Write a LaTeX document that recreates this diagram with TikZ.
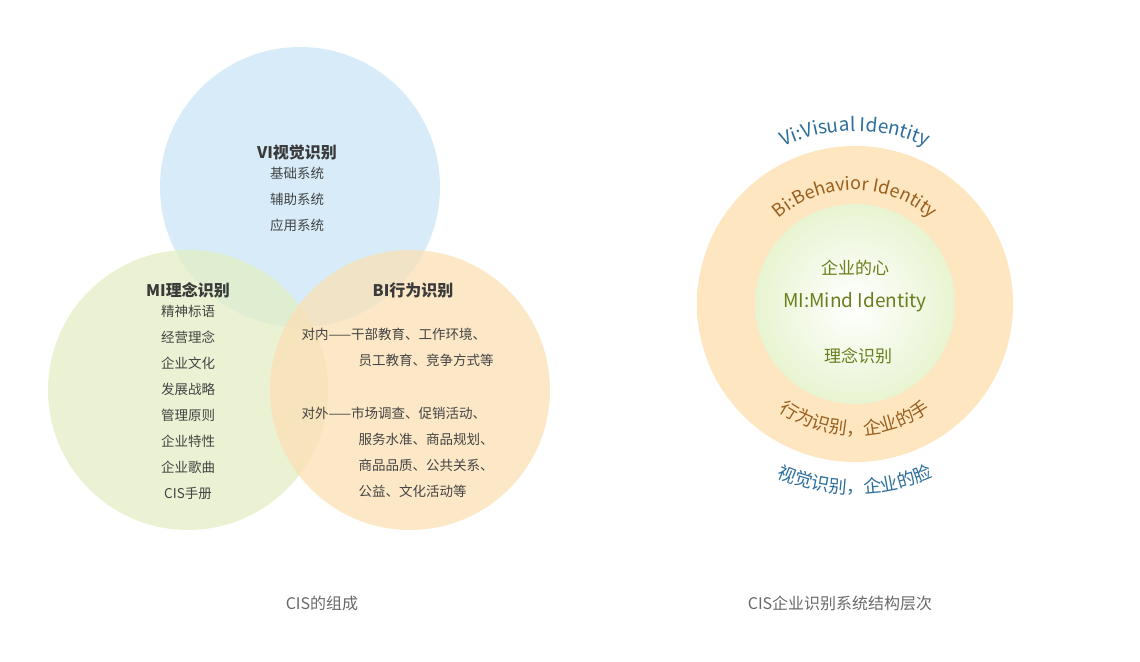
\documentclass[tikz,border=0pt]{standalone}
\usepackage{fontspec}
\setmainfont{Noto Sans CJK SC}
\usetikzlibrary{decorations.text}
\usetikzlibrary{positioning}

\definecolor{vennblue}{HTML}{C9E6F6}
\definecolor{venngreen}{HTML}{E3EEC4}
\definecolor{vennorange}{HTML}{FBE0B4}
\definecolor{ringblue}{HTML}{A6D6F0}
\definecolor{ringorange}{HTML}{F5BE72}
\definecolor{ringorangein}{HTML}{FDE6C0}
\definecolor{ringgreen}{HTML}{D2E9A4}
\definecolor{txtblue}{HTML}{2C6E9C}
\definecolor{txtorange}{HTML}{9A5E1C}
\definecolor{txtgreen}{HTML}{6A7E1C}
\definecolor{txtgray}{HTML}{444444}

\pgfdeclareradialshading{blueband}{\pgfpoint{0bp}{0bp}}{color(0bp)=(white); color(33bp)=(white); color(50bp)=(ringblue)}
\pgfdeclareradialshading{orangeband}{\pgfpoint{0bp}{0bp}}{color(0bp)=(ringorangein); color(32bp)=(ringorangein); color(50bp)=(ringorange)}
\pgfdeclareradialshading{greencore}{\pgfpoint{0bp}{0bp}}{color(0bp)=(white); color(50bp)=(ringgreen)}

\begin{document}
\begin{tikzpicture}[x=1pt,y=1pt]
    \tikzstyle{venn}=[fill opacity=0.75]
    \tikzstyle{title}=[font=\fontsize{16}{18}\selectfont\bfseries, text=txtgray!85!black]
    \tikzstyle{items}=[font=\fontsize{13.5}{26}\selectfont, text=txtgray, align=center]
    \tikzstyle{bline}=[font=\fontsize{13.5}{16}\selectfont, text=txtgray, anchor=west]
    \tikzstyle{caption}=[font=\fontsize{16}{18}\selectfont, text=txtgray!80]

    \useasboundingbox (0,0) rectangle (1140,661);

    % Venn circles
    \fill[venn, vennblue] (300,474) circle (140);
    \fill[venn, venngreen] (188,271) circle (140);
    \fill[venn, vennorange] (410,271) circle (140);

    % VI
    \node[title] (vi) at (297,509) {VI视觉识别};
    \node[items, below=0pt of vi] (vilist) {基础系统\\辅助系统\\应用系统};

    % MI
    \node[title] (mi) at (188,371) {MI理念识别};
    \node[items, below=0pt of mi] (milist) {精神标语\\经营理念\\企业文化\\发展战略\\管理原则\\企业特性\\企业歌曲\\CIS手册};

    % BI
    \node[title] (bi) at (413,371) {BI行为识别};
    \node[bline] (in1) at (298,327) {对内——干部教育、工作环境、};
    \node[bline] (in2) at (355,301) {员工教育、竞争方式等};
    \node[bline] (out1) at (298,248) {对外——市场调查、促销活动、};
    \node[bline] (out2) at (355,222) {服务水准、商品规划、};
    \node[bline] (out3) at (355,196) {商品品质、公共关系、};
    \node[bline] (out4) at (355,170) {公益、文化活动等};

    \node[caption] (cap1) at (322,58) {CIS的组成};

    % Rings
    \shade[shading=blueband] (855,357) circle (226);
    \shade[shading=orangeband] (855,357) circle (158);
    \shade[shading=greencore] (855,357) circle (100);

    \path[decorate, decoration={text along path, text align=center,
        text={|\fontsize{19}{20}\selectfont\color{txtblue}|Vi:Visual Identity}}]
      (855,357) ++(128:173) arc[start angle=128, end angle=52, radius=173];
    \path[decorate, decoration={text along path, text align=center,
        text={|\fontsize{18}{20}\selectfont\color{txtblue}|视觉识别，企业的脸}}]
      (855,357) ++(230:190) arc[start angle=230, end angle=310, radius=190];
    \path[decorate, decoration={text along path, text align=center,
        text={|\fontsize{18}{20}\selectfont\color{txtorange}|Bi:Behavior Identity}}]
      (855,357) ++(160:114) arc[start angle=160, end angle=20, radius=114];
    \path[decorate, decoration={text along path, text align=center,
        text={|\fontsize{18}{20}\selectfont\color{txtorange}|行为识别，企业的手}}]
      (855,357) ++(205:131) arc[start angle=205, end angle=335, radius=131];

    \node[font=\fontsize{17}{20}\selectfont, text=txtgreen] (heart) at (855,393) {企业的心};
    \node[font=\fontsize{19}{20}\selectfont, text=txtgreen] (mind) at (855,359) {MI:Mind Identity};
    \node[font=\fontsize{17}{20}\selectfont, text=txtgreen] (idea) at (858,305) {理念识别};

    \node[caption] (cap2) at (840,58) {CIS企业识别系统结构层次};
\end{tikzpicture}
\end{document}
